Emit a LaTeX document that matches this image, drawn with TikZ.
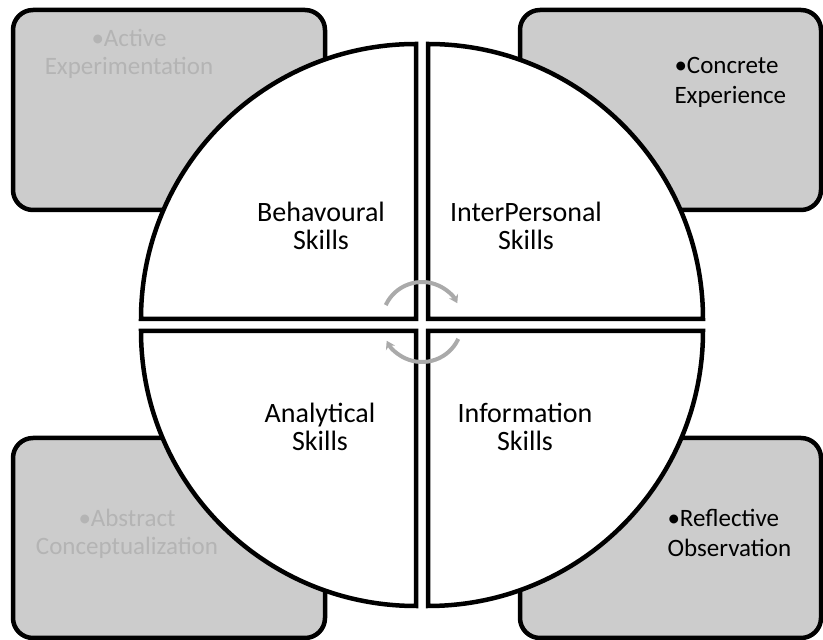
\documentclass[tikz,border=0pt]{standalone}
\usepackage{fontspec}
\setmainfont{Carlito}
\usetikzlibrary{arrows.meta,calc}
\definecolor{boxgray}{RGB}{204,204,204}
\definecolor{faint}{RGB}{180,180,180}
\definecolor{arrowgray}{RGB}{170,170,170}
\tikzset{
  cornerbox/.style={draw=black, line width=4.5pt, fill=boxgray, rounded corners=20pt},
  quarter/.style={draw=black, line width=4.5pt, fill=white},
  bigtxt/.style={font=\fontsize{28}{28}\selectfont, align=center, text=black},
  boxtxt/.style={font=\fontsize{25}{30}\selectfont, align=left, text=black},
  fainttxt/.style={font=\fontsize{25}{28}\selectfont, align=center, text=faint},
  cyc/.style={draw=arrowgray, line width=4pt, -{Stealth[length=8pt,width=10pt]}}
}
\begin{document}
\begin{tikzpicture}[x=1pt,y=1pt]
\useasboundingbox (0,0) rectangle (823,640);
% corner boxes
\draw[cornerbox] (13,430) rectangle (325,630);
\draw[cornerbox] (520,430) rectangle (821,630);
\draw[cornerbox] (13,2) rectangle (325,202);
\draw[cornerbox] (520,2) rectangle (821,202);
% quarter circles
\draw[quarter] (416,321) -- ++(180:275) arc[start angle=180,end angle=90,radius=275] -- cycle;
\draw[quarter] (428,321) -- ++(0:275) arc[start angle=0,end angle=90,radius=275] -- cycle;
\draw[quarter] (416,309) -- ++(180:275) arc[start angle=180,end angle=270,radius=275] -- cycle;
\draw[quarter] (428,309) -- ++(0:275) arc[start angle=0,end angle=-90,radius=275] -- cycle;
% circular arrows
\coordinate (cc) at (422,318);
\draw[cyc] ($(cc)+(155:40)$) arc[start angle=155,end angle=28,radius=40];
\draw[cyc] ($(cc)+(-25:40)$) arc[start angle=-25,end angle=-152,radius=40];
% labels
\node[bigtxt] (beh) at (321,414) {Behavoural\\Skills};
\node[bigtxt] (int) at (526,414) {InterPersonal\\Skills};
\node[bigtxt] (ana) at (320,213) {Analytical\\Skills};
\node[bigtxt] (inf) at (525,213) {Information\\Skills};
\node[fainttxt] (act) at (129,586) {•Active\\Experimentation};
\node[fainttxt] (abs) at (127,106) {•Abstract\\Conceptualization};
\node[boxtxt, anchor=west] (con) at (671,558) {•Concrete\\Experience};
\node[boxtxt, anchor=west] (ref) at (664,107) {•Reflective\\Observation};
\end{tikzpicture}
\end{document}
